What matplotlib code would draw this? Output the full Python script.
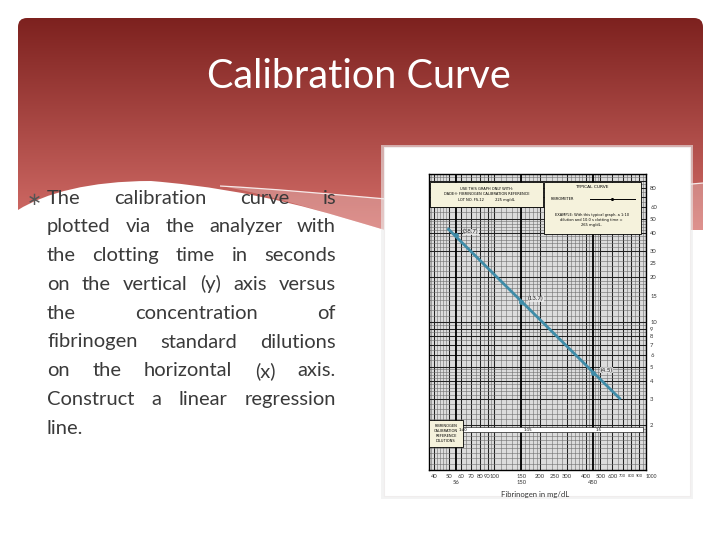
import numpy as np
import matplotlib.pyplot as plt
from matplotlib.path import Path
from matplotlib.patches import PathPatch, Rectangle
from matplotlib.transforms import blended_transform_factory

# ---- slide text ----
title = 'Calibration Curve'
bullet_lines = [
    'The calibration curve is',
    'plotted via the analyzer with',
    'the clotting time in seconds',
    'on the vertical (y) axis versus',
    'the concentration of',
    'fibrinogen standard dilutions',
    'on the horizontal (x) axis.',
    'Construct a linear regression',
    'line.',
]

# ---- chart data ----
conc_ticks = [40, 50, 60, 70, 80, 90, 100, 150, 200, 250, 300, 400, 500, 600, 700, 800, 900, 1000]
time_ticks = [2, 3, 4, 5, 6, 7, 8, 9, 10, 15, 20, 25, 30, 40, 50, 60, 80]
dilution_conc = [56, 150, 450]
dilution_names = ['1:40', '1:15', '1:5']
dilution_time = [38.7, 13.7, 4.5]
time_labels = ['(38.7)', '(13.7)', '(4.5)']
line_conc = [49, 680]
line_time = [43, 3.0]

plt.rcParams['font.family'] = ['Lato', 'DejaVu Sans']

fig = plt.figure(figsize=(7.2, 5.4), dpi=100)
fig.patch.set_facecolor('white')
bg = fig.add_axes([0, 0, 1, 1])
bg.set_xlim(0, 720)
bg.set_ylim(540, 0)
bg.axis('off')

# banner with gradient
verts = [(18, 27), (18, 18), (27, 18), (694, 18), (703, 18), (703, 27),
         (703, 230), (385, 230),
         (330, 214), (260, 190), (151, 181),
         (90, 181), (45, 193), (18, 210), (18, 27)]
codes = [Path.MOVETO, Path.CURVE3, Path.CURVE3, Path.LINETO, Path.CURVE3, Path.CURVE3,
         Path.LINETO, Path.LINETO,
         Path.CURVE4, Path.CURVE4, Path.CURVE4,
         Path.CURVE4, Path.CURVE4, Path.CURVE4, Path.CLOSEPOLY]
banner = PathPatch(Path(verts, codes), facecolor='none', edgecolor='none')
bg.add_patch(banner)
top = np.array([0.49, 0.13, 0.12])
bot = np.array([0.83, 0.43, 0.41])
t = np.linspace(0, 1, 256)[:, None]
grad = (top + (bot - top) * t)[:, None, :]
im = bg.imshow(grad, extent=(18, 703, 230, 18), aspect='auto', zorder=1)
im.set_clip_path(banner)

# lighter band on the right with thin white line
band_v = [(220, 186), (330, 192), (400, 203), (459, 202),
          (560, 198), (640, 188), (703, 183), (703, 230), (385, 230),
          (330, 214), (260, 192), (220, 186)]
band_c = [Path.MOVETO, Path.CURVE4, Path.CURVE4, Path.CURVE4,
          Path.CURVE4, Path.CURVE4, Path.CURVE4, Path.LINETO, Path.LINETO,
          Path.CURVE4, Path.CURVE4, Path.CURVE4]
bg.add_patch(PathPatch(Path(band_v, band_c), facecolor='white', alpha=0.25,
                       edgecolor='none', zorder=2))
bg.add_patch(PathPatch(Path(band_v[:7], band_c[:7]), facecolor='none',
                       edgecolor='white', lw=0.9, alpha=0.85, zorder=2))

bg.text(359, 77, title, color='white', fontsize=28.5, ha='center', va='center', zorder=3)

# bullet text, justified
fs = 14.5
renderer = fig.canvas.get_renderer()
bg.text(27, 200, '\u2217', fontsize=13, color='#555555', va='center',
        family=['DejaVu Sans'])
x0, x1 = 47, 336
for i, line in enumerate(bullet_lines):
    y = 198 + i * 28.8
    words = line.split()
    texts = [bg.text(0, y, w, fontsize=fs, color='#3a3a3a', va='center') for w in words]
    widths = [tx.get_window_extent(renderer).width for tx in texts]
    if i == len(bullet_lines) - 1 or len(words) == 1:
        gap = fs * 0.3
    else:
        gap = (x1 - x0 - sum(widths)) / (len(words) - 1)
    x = x0
    for tx, w in zip(texts, widths):
        tx.set_x(x)
        x += w + gap

# photo frame
bg.add_patch(Rectangle((381, 145), 312, 354, facecolor='#ececec', edgecolor='none',
                       alpha=0.6, zorder=4))
bg.add_patch(Rectangle((384, 147), 306, 349, facecolor='white', edgecolor='#f0eded',
                       lw=0.8, zorder=5))

# ---- chart ----
ax = fig.add_axes([429 / 720, 1 - 470 / 540, 217 / 720, 296 / 540], zorder=6)
ax.set_xscale('log')
ax.set_yscale('log')
ax.set_xlim(37, 1000)
ax.set_ylim(1, 100)
ax.set_facecolor('#dcdcdc')

fine = list(np.arange(1, 2, 0.1)) + list(np.arange(2, 5, 0.2)) + list(np.arange(5, 10, 0.5))
for d in [10, 100]:
    for m in fine:
        ax.axvline(m * d, color='#6e6e6e', lw=0.4, zorder=1)
    for m in range(1, 11):
        ax.axvline(m * d, color='#222222', lw=0.75, zorder=1)
for d in [1, 10]:
    for m in fine:
        ax.axhline(m * d, color='#6e6e6e', lw=0.4, zorder=1)
    for m in range(1, 11):
        ax.axhline(m * d, color='#222222', lw=0.75, zorder=1)
for c in dilution_conc:
    ax.axvline(c, color='black', lw=1.3, zorder=2)

ax.plot(line_conc, line_time, color='#3f8ca8', lw=2, zorder=4, solid_capstyle='butt')
ax.plot(dilution_conc, dilution_time, 'o', color='#3f8ca8', ms=2.5, zorder=4)
for c, tm, lab in zip(dilution_conc, dilution_time, time_labels):
    ax.annotate(lab, (c, tm), xytext=(5, 1), textcoords='offset points',
                fontsize=4.5, color='#222222', zorder=5,
                bbox=dict(facecolor='#eeeeee', edgecolor='none', pad=0.3, alpha=0.8))

ax.set_xticks(conc_ticks)
ax.set_xticklabels([str(v) for v in conc_ticks])
ax.xaxis.set_minor_locator(plt.NullLocator())
ax.set_yticks(time_ticks)
ax.set_yticklabels([str(v) for v in time_ticks])
ax.yaxis.set_minor_locator(plt.NullLocator())
ax.yaxis.tick_right()
ax.tick_params(axis='both', length=0, labelsize=4.2, colors='#333333', pad=3)
for lab, v in zip(ax.get_xticklabels(), conc_ticks):
    if v in (700, 800, 900):
        lab.set_fontsize(2.9)
    if v == 1000:
        lab.set_horizontalalignment('left')
        lab.set_fontsize(3.6)
for s in ax.spines.values():
    s.set_color('black')
    s.set_linewidth(1.0)

trans = blended_transform_factory(ax.transData, ax.transAxes)
for c in dilution_conc:
    ax.text(c, -0.035, str(c), transform=trans, ha='center', va='top',
            fontsize=4.2, color='#333333')
ax.text(0.49, -0.07, 'Fibrinogen in mg/dL', transform=ax.transAxes, ha='center',
        va='top', fontsize=5.5, color='#333333')

box_kw = dict(facecolor='#f5f2dc', edgecolor='black', lw=0.6, transform=ax.transAxes, zorder=7)
ax.add_patch(Rectangle((0.005, 0.889), 0.52, 0.084, **box_kw))
ax.text(0.265, 0.931, 'USE THIS GRAPH ONLY WITH:\nDADE\u00ae FIBRINOGEN CALIBRATION REFERENCE\nLOT NO. FS-12          225 mg/dL',
        transform=ax.transAxes, ha='center', va='center', fontsize=2.6,
        linespacing=1.4, zorder=8, family=['DejaVu Sans'])
ax.add_patch(Rectangle((0.53, 0.797), 0.447, 0.176, **box_kw))
ax.text(0.75, 0.955, 'TYPICAL CURVE', transform=ax.transAxes, ha='center', va='center',
        fontsize=3.2, zorder=8, family=['DejaVu Sans'])
ax.text(0.56, 0.915, 'FIBROMETER', transform=ax.transAxes, ha='left', va='center',
        fontsize=2.6, zorder=8, family=['DejaVu Sans'])
ax.plot([0.74, 0.95], [0.915, 0.915], color='black', lw=0.7, transform=ax.transAxes, zorder=8)
ax.plot([0.845], [0.915], 'o', color='black', ms=1.2, transform=ax.transAxes, zorder=8)
ax.text(0.75, 0.845, 'EXAMPLE: With this typical graph, a 1:10\ndilution and 10.0 s clotting time =\n265 mg/dL.',
        transform=ax.transAxes, ha='center', va='center', fontsize=2.6, linespacing=1.3,
        zorder=8, family=['DejaVu Sans'])
ax.add_patch(Rectangle((0.0, 0.078), 0.157, 0.091, **box_kw))
ax.text(0.078, 0.123, 'FIBRINOGEN\nCALIBRATION\nREFERENCE\nDILUTIONS', transform=ax.transAxes,
        ha='center', va='center', fontsize=2.6, linespacing=1.3, zorder=8, family=['DejaVu Sans'])
ax.add_patch(Rectangle((0.157, 0.128), 0.829, 0.017, facecolor='white', edgecolor='black',
                       lw=0.4, transform=ax.transAxes, zorder=7))
for c, nm in zip(dilution_conc, dilution_names):
    ax.text(c * 1.04, 0.1365, nm, transform=trans, ha='left', va='center',
            fontsize=2.8, zorder=8, family=['DejaVu Sans'])

fig.savefig('out.png', dpi=100)
